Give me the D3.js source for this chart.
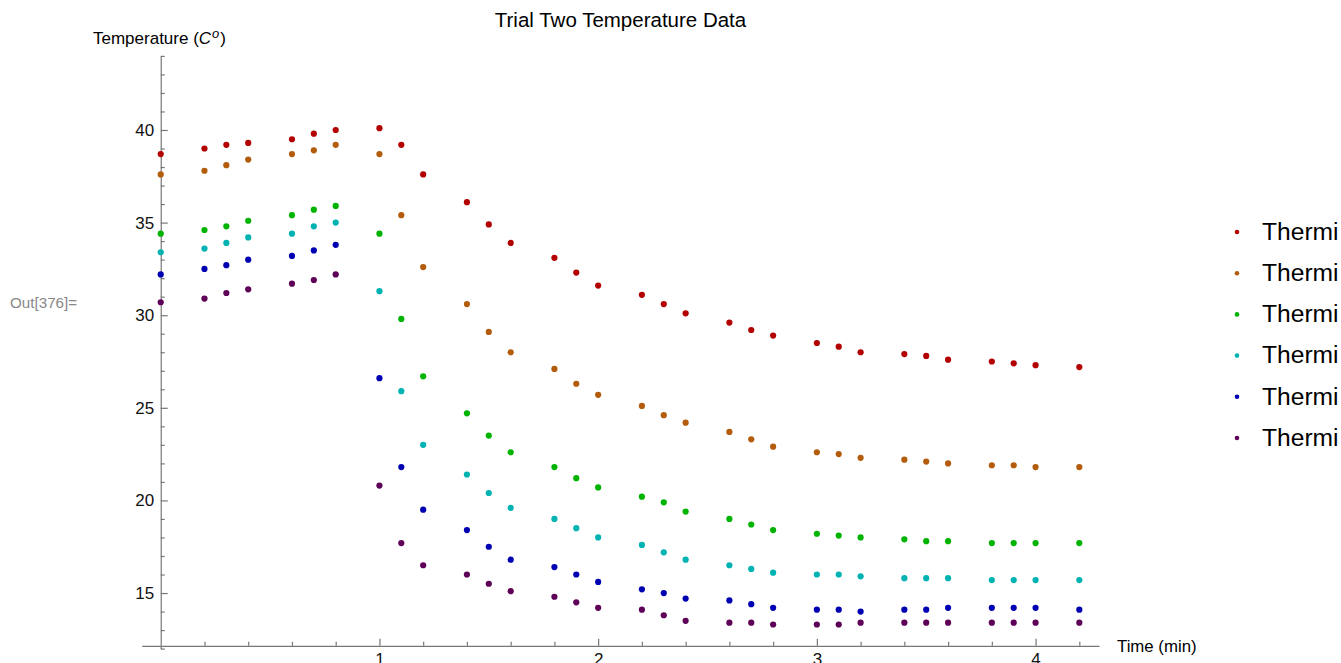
<!DOCTYPE html>
<html>
<head>
<meta charset="utf-8">
<script src="https://cdn.jsdelivr.net/npm/d3@7"></script>
<style>
    body { margin: 0; background: #fff; }
    svg { display: block; font-family: "Liberation Sans", Arial, sans-serif; }
</style>
</head>
<body>
<div id="chart"></div>
<script>
// time in minutes
var times = [0, 0.2, 0.3, 0.4, 0.6, 0.7, 0.8, 1.0, 1.1, 1.2, 1.4, 1.5, 1.6, 1.8, 1.9, 2.0,
    2.2, 2.3, 2.4, 2.6, 2.7, 2.8, 3.0, 3.1, 3.2, 3.4, 3.5, 3.6, 3.8, 3.9, 4.0, 4.2];

var thermistor1 = [38.7, 39.0, 39.2, 39.3, 39.5, 39.8, 40.0, 40.1, 39.2, 37.6, 36.1, 34.9, 33.9, 33.1, 32.3, 31.6,
    31.1, 30.6, 30.1, 29.6, 29.2, 28.9, 28.5, 28.3, 28.0, 27.9, 27.8, 27.6, 27.5, 27.4, 27.3, 27.2];
var thermistor2 = [37.6, 37.8, 38.1, 38.4, 38.7, 38.9, 39.2, 38.7, 35.4, 32.6, 30.6, 29.1, 28.0, 27.1, 26.3, 25.7,
    25.1, 24.6, 24.2, 23.7, 23.3, 22.9, 22.6, 22.5, 22.3, 22.2, 22.1, 22.0, 21.9, 21.9, 21.8, 21.8];
var thermistor3 = [34.4, 34.6, 34.8, 35.1, 35.4, 35.7, 35.9, 34.4, 29.8, 26.7, 24.7, 23.5, 22.6, 21.8, 21.2, 20.7,
    20.2, 19.9, 19.4, 19.0, 18.7, 18.4, 18.2, 18.1, 18.0, 17.9, 17.8, 17.8, 17.7, 17.7, 17.7, 17.7];
var thermistor4 = [33.4, 33.6, 33.9, 34.2, 34.4, 34.8, 35.0, 31.3, 25.9, 23.0, 21.4, 20.4, 19.6, 19.0, 18.5, 18.0,
    17.6, 17.2, 16.8, 16.5, 16.3, 16.1, 16.0, 16.0, 15.9, 15.8, 15.8, 15.8, 15.7, 15.7, 15.7, 15.7];
var thermistor5 = [32.2, 32.5, 32.7, 33.0, 33.2, 33.5, 33.8, 26.6, 21.8, 19.5, 18.4, 17.5, 16.8, 16.4, 16.0, 15.6,
    15.2, 15.0, 14.7, 14.6, 14.4, 14.2, 14.1, 14.1, 14.0, 14.1, 14.1, 14.2, 14.2, 14.2, 14.2, 14.1];
var thermistor6 = [30.7, 30.9, 31.2, 31.4, 31.7, 31.9, 32.2, 20.8, 17.7, 16.5, 16.0, 15.5, 15.1, 14.8, 14.5, 14.2,
    14.1, 13.8, 13.5, 13.4, 13.4, 13.3, 13.3, 13.3, 13.4, 13.4, 13.4, 13.4, 13.4, 13.4, 13.4, 13.4];

var seriesNames = ["Thermistor 1", "Thermistor 2", "Thermistor 3", "Thermistor 4", "Thermistor 5", "Thermistor 6"];
var seriesColors = ["#b30000", "#b35c0c", "#00b300", "#00b3b3", "#0000b3", "#5e0058"];

var xMajorTicks = [1, 2, 3, 4];
var yMajorTicks = [15, 20, 25, 30, 35, 40];

var width = 1341,
    height = 663;

var allSeries = [thermistor1, thermistor2, thermistor3, thermistor4, thermistor5, thermistor6];

var x = d3.scaleLinear()
    .domain([-0.087, 4.29])
    .range([141.7, 1099]);

var y = d3.scaleLinear()
    .domain([12, 44])
    .range([648.6, 55.9]);

var xAxisAt = 12.15;

var svg = d3.select("#chart")
    .append("svg")
    .attr("width", width)
    .attr("height", height);

var clipRect = svg.append("defs")
    .append("clipPath")
    .attr("id", "legendClip")
    .append("rect")
    .attr("x", 1180)
    .attr("y", 0)
    .attr("width", 158)
    .attr("height", height);

// title
svg.append("text")
    .attr("x", 620.5)
    .attr("y", 26.7)
    .attr("text-anchor", "middle")
    .style("font-size", "20.5px")
    .style("fill", "#000")
    .text("Trial Two Temperature Data");

svg.append("text")
    .attr("x", 10)
    .attr("y", 308)
    .style("font-size", "15.2px")
    .style("fill", "#888")
    .text("Out[376]=");

// x axis: minor ticks then major ticks with labels
var xMinor = d3.range(0, 4.3, 0.2).map(function (d) { return +d.toFixed(1); })
    .filter(function (d) { return d > 0 && xMajorTicks.indexOf(d) < 0; });

var gx = svg.append("g")
    .attr("class", "x-axis")
    .attr("transform", "translate(0," + y(xAxisAt) + ")");

gx.call(d3.axisBottom(x)
    .tickValues(xMinor)
    .tickSizeInner(-4)
    .tickSizeOuter(0)
    .tickFormat(""));

gx.append("g")
    .call(d3.axisBottom(x)
        .tickValues(xMajorTicks)
        .tickSizeInner(-7)
        .tickSizeOuter(0)
        .tickPadding(7.5)
        .tickFormat(d3.format("d")))
    .select(".domain").remove();

// y axis
var yMinor = d3.range(12, 45, 1).filter(function (d) { return yMajorTicks.indexOf(d) < 0; });

var gy = svg.append("g")
    .attr("class", "y-axis")
    .attr("transform", "translate(" + x(0) + ",0)");

gy.call(d3.axisLeft(y)
    .tickValues(yMinor)
    .tickSizeInner(-4)
    .tickSizeOuter(0)
    .tickFormat(""));

gy.append("g")
    .call(d3.axisLeft(y)
        .tickValues(yMajorTicks)
        .tickSizeInner(-7)
        .tickSizeOuter(0)
        .tickPadding(6.5)
        .tickFormat(d3.format("d")))
    .select(".domain").remove();

svg.selectAll(".x-axis path, .x-axis line, .y-axis path, .y-axis line")
    .attr("stroke", "#777")
    .attr("stroke-width", 1.2);

svg.selectAll(".x-axis text, .y-axis text")
    .style("font-size", "17px")
    .style("font-family", "\"Liberation Sans\", Arial, sans-serif")
    .style("fill", "#111");

// axis labels
var yLabel = svg.append("text")
    .attr("x", 93)
    .attr("y", 44)
    .style("font-size", "17px")
    .style("fill", "#000");
yLabel.append("tspan").text("Temperature (");
yLabel.append("tspan").style("font-style", "italic").text("C");
yLabel.append("tspan").attr("dx", 1).attr("dy", -6).style("font-size", "13px").style("font-style", "italic").text("o");
yLabel.append("tspan").attr("dx", 1).attr("dy", 6).text(")");

svg.append("text")
    .attr("x", 1117)
    .attr("y", 652)
    .style("font-size", "16.8px")
    .style("fill", "#000")
    .text("Time (min)");

// points
var series = svg.selectAll("g.series")
    .data(allSeries)
    .enter().append("g")
    .attr("class", "series")
    .style("fill", function (d, i) {
        return seriesColors[i];
    });

series.selectAll("circle")
    .data(function (d) {
        return d.map(function (v, j) { return { t: times[j], v: v }; });
    })
    .enter().append("circle")
    .attr("cx", function (d) { return x(d.t); })
    .attr("cy", function (d) { return y(d.v); })
    .attr("r", 3.1);

// legend (the reference image is cut off at the right, after "Thermi")
var legend = svg.append("g")
    .attr("clip-path", "url(#legendClip)")
    .selectAll("g")
    .data(seriesNames)
    .enter().append("g")
    .attr("transform", function (d, i) {
        return "translate(1237," + (232 + i * 41.2) + ")";
    });

legend.append("circle")
    .attr("r", 2.3)
    .style("fill", function (d, i) { return seriesColors[i]; });

var legendText = legend.append("text")
    .attr("x", 25)
    .attr("y", 7.8)
    .style("font-size", "24.6px")
    .style("fill", "#000")
    .text(function (d) { return d; });

var shown = legendText.node().getSubStringLength(0, 6);
clipRect.attr("width", 1237 + 25 + shown + 0.5 - 1180);
</script>
</body>
</html>
